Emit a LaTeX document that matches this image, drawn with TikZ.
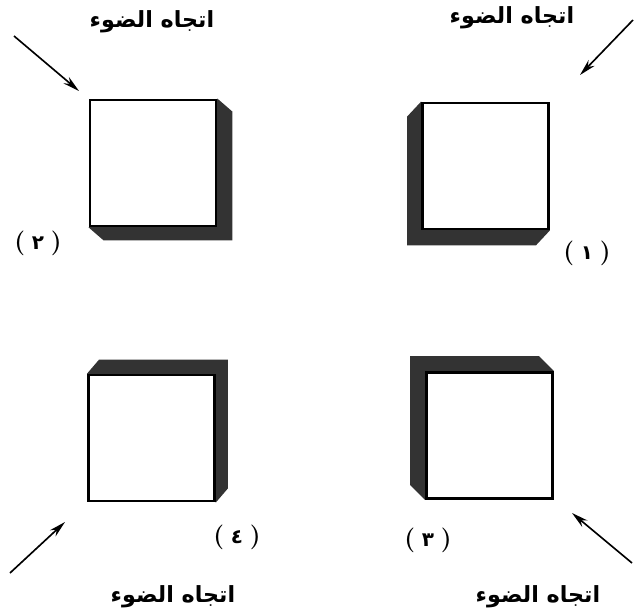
\documentclass[tikz,border=0pt]{standalone}
\usepackage{fontspec}
\newfontfamily\arabicfont[Script=Arabic]{DejaVu Sans}
\TeXXeTstate=1
\usetikzlibrary{arrows.meta,backgrounds,calc}
\definecolor{boxshadow}{HTML}{333333}
\tikzset{
  face/.style={rectangle,draw,line width=2.4pt,fill=white,minimum width=37.8mm,minimum height=37.8mm,inner sep=0},
  shadowfill/.style={fill=boxshadow},
  ray/.style={-{Stealth[length=5mm,width=2.5mm]},line width=1.4pt},
  caption/.style={font=\arabicfont\fontsize{19}{22}\selectfont\bfseries},
  num/.style={font=\fontsize{21}{24}\selectfont\bfseries},
}
\newcommand\boxnum[1]{(\;{\arabicfont\fontsize{17}{20}\selectfont\bfseries #1}\;)}

\begin{document}
\begin{tikzpicture}[x=0.3mm,y=-0.3mm]
  \useasboundingbox (0,0) rectangle (634,615);
  % the four boxes, numbered as in the text
  \node[face] (sq1) at (485.5,166) {};
  \node[face] (sq2) at (153,163) {};
  \node[face] (sq3) at (489.5,435.5) {};
  \node[face] (sq4) at (151.5,438) {};
  % shadows fall away from the light
  \begin{scope}[on background layer]
    \fill[shadowfill] (sq1.north west) -- ++(-14,15) -- ($(sq1.south west)+(-14,15)$)
      -- ($(sq1.south east)+(-14,15)$) -- (sq1.south east) -- cycle;
    \fill[shadowfill] (sq2.north east) -- ++(15,13) -- ($(sq2.south east)+(15,13)$)
      -- ($(sq2.south west)+(15,13)$) -- (sq2.south west) -- cycle;
    \fill[shadowfill] (sq3.north east) -- ++(-15,-15) -- ($(sq3.north west)+(-15,-15)$)
      -- ($(sq3.south west)+(-15,-15)$) -- (sq3.south west) -- cycle;
    \fill[shadowfill] (sq4.north west) -- ++(12,-14) -- ($(sq4.north east)+(12,-14)$)
      -- ($(sq4.south east)+(12,-14)$) -- (sq4.south east) -- cycle;
  \end{scope}
  % light rays
  \coordinate (src1) at (633,20);  \coordinate (tip1) at (580,75);
  \coordinate (src2) at (14,36);   \coordinate (tip2) at (79,91);
  \coordinate (src3) at (632,563); \coordinate (tip3) at (572,513);
  \coordinate (src4) at (10,573);  \coordinate (tip4) at (65,522);
  \foreach \i in {1,...,4} { \draw[ray] (src\i) -- (tip\i); }
  % captions
  \node[caption] (cap1) at (512,18) {\beginR اتجاه الضوء\endR};
  \node[caption] (cap2) at (152,22) {\beginR اتجاه الضوء\endR};
  \node[caption] (cap3) at (538,597) {\beginR اتجاه الضوء\endR};
  \node[caption] (cap4) at (173,597) {\beginR اتجاه الضوء\endR};
  \node[num] (num1) at (587,253) {\boxnum{١}};
  \node[num] (num2) at (38,243) {\boxnum{٢}};
  \node[num] (num3) at (428,540) {\boxnum{٣}};
  \node[num] (num4) at (237,537) {\boxnum{٤}};
\end{tikzpicture}
\end{document}
